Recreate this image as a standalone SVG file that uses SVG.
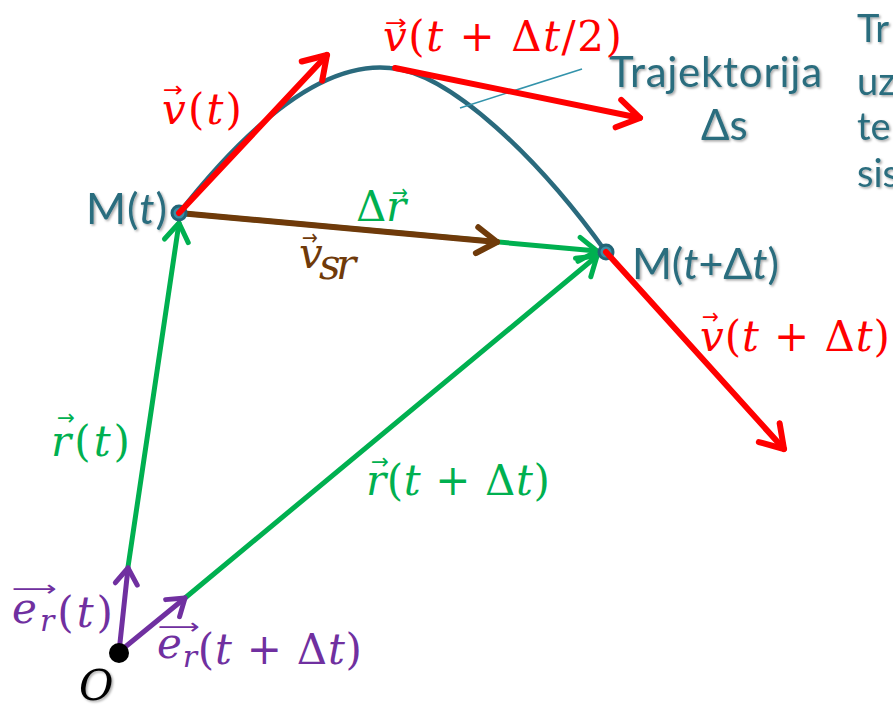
<svg xmlns="http://www.w3.org/2000/svg" width="893" height="711" viewBox="0 0 893 711">
<defs>
<style>
.m{font-family:"DejaVu Serif","Liberation Serif",serif;font-size:42px}
.i{font-style:italic}
.lab{font-family:Lato,"Open Sans",sans-serif;fill:#2b6d7e}
.acc{font-family:"DejaVu Sans",sans-serif;font-size:22px}
.red{fill:#ff0000}
.grn{fill:#00b050}
.brn{fill:#6f3a0a}
.pur{fill:#7030a0}
.v{fill:none;stroke-linecap:round}
.vr{stroke:#ff0000;stroke-width:6}
.vg{stroke:#00b050;stroke-width:5}
.vb{stroke:#6f3a0a;stroke-width:6}
.vp{stroke:#7030a0;stroke-width:5}
.pt{fill:#3a8ea6;stroke:#226476;stroke-width:3}
</style>
<filter id="sh" x="-10%" y="-20%" width="130%" height="150%">
<feDropShadow dx="1.5" dy="1.5" stdDeviation="1.2" flood-color="#000" flood-opacity="0.35"/>
</filter>
<marker id="ar" viewBox="-30 -20 36 40" refX="0" refY="0" markerWidth="36" markerHeight="40" markerUnits="userSpaceOnUse" orient="auto">
<path d="M-22,-14 L0,0 L-22,14" fill="none" stroke="#ff0000" stroke-width="6" stroke-linecap="round" stroke-linejoin="round"/>
</marker>
<marker id="ag" viewBox="-30 -20 36 40" refX="0" refY="0" markerWidth="36" markerHeight="40" markerUnits="userSpaceOnUse" orient="auto">
<path d="M-18,-12 L0,0 L-18,12" fill="none" stroke="#00b050" stroke-width="5" stroke-linecap="round" stroke-linejoin="round"/>
</marker>
<marker id="ab" viewBox="-30 -20 36 40" refX="0" refY="0" markerWidth="36" markerHeight="40" markerUnits="userSpaceOnUse" orient="auto">
<path d="M-20,-13 L0,0 L-20,13" fill="none" stroke="#6f3a0a" stroke-width="6" stroke-linecap="round" stroke-linejoin="round"/>
</marker>
<marker id="ap" viewBox="-30 -20 36 40" refX="0" refY="0" markerWidth="36" markerHeight="40" markerUnits="userSpaceOnUse" orient="auto">
<path d="M-16,-11 L0,0 L-16,11" fill="none" stroke="#7030a0" stroke-width="5" stroke-linecap="round" stroke-linejoin="round"/>
</marker>
</defs>
<rect width="893" height="711" fill="#ffffff"/>

<g id="trajectory">
<path d="M179,213 C260,110 330,62 390,68 C450,72 540,160 606,252" fill="none" stroke="#2a6a7d" stroke-width="4.5"/>
<line x1="460" y1="108" x2="582" y2="69" stroke="#3393ab" stroke-width="1.5"/>
<text class="lab" x="609" y="87" font-size="42" textLength="213" filter="url(#sh)">Trajektorija</text>
<text class="lab" x="701" y="140" font-size="42" filter="url(#sh)">Δs</text>
</g>

<g id="connectors">
<line class="v vg" x1="128" y1="567" x2="179" y2="223" marker-end="url(#ag)"/>
<line class="v vg" x1="185" y1="598" x2="597" y2="256" marker-end="url(#ag)"/>
<line class="v vg" x1="179" y1="213" x2="597" y2="251" marker-end="url(#ag)"/>
<line class="v vb" x1="179" y1="213" x2="497" y2="242" marker-end="url(#ab)"/>
<line class="v vp" x1="119" y1="652" x2="128" y2="568" marker-end="url(#ap)"/>
<line class="v vp" x1="119" y1="652" x2="185" y2="598" marker-end="url(#ap)"/>
</g>

<g id="node-M-t">
<circle class="pt" cx="179" cy="213" r="7"/>
<text class="lab" x="86" y="224" font-size="43" textLength="81" filter="url(#sh)">M(<tspan class="i">t</tspan>)</text>
</g>

<g id="node-M-t-dt">
<circle class="pt" cx="606" cy="252" r="7"/>
<text class="lab" x="632" y="279" font-size="43" textLength="147" filter="url(#sh)">M(<tspan class="i">t</tspan>+Δ<tspan class="i">t</tspan>)</text>
</g>

<g id="node-O">
<circle cx="119" cy="653" r="10" fill="#000"/>
<text class="m i" x="79" y="700" font-size="40" fill="#000" filter="url(#sh)">O</text>
</g>

<g id="velocity-vectors">
<line class="v vr" x1="179" y1="213" x2="327" y2="55" marker-end="url(#ar)"/>
<line class="v vr" x1="395" y1="68" x2="640" y2="118" marker-end="url(#ar)"/>
<line class="v vr" x1="606" y1="252" x2="784" y2="449" marker-end="url(#ar)"/>
</g>

<g id="labels">
<text class="m red" x="162" y="124" textLength="80"><tspan class="i">v</tspan>(<tspan class="i">t</tspan>)</text>
<text class="acc red" x="163" y="97" textLength="20" lengthAdjust="spacingAndGlyphs">→</text>

<text class="m red" x="383" y="51" textLength="239"><tspan class="i">v</tspan>(<tspan class="i">t</tspan> + Δ<tspan class="i">t</tspan>/2)</text>
<text class="acc red" x="385" y="30" textLength="22" lengthAdjust="spacingAndGlyphs">→</text>

<text class="m red" x="700" y="351" textLength="190"><tspan class="i">v</tspan>(<tspan class="i">t</tspan> + Δ<tspan class="i">t</tspan>)</text>
<text class="acc red" x="702" y="324" textLength="17" lengthAdjust="spacingAndGlyphs">→</text>

<text class="m grn" x="356" y="221" textLength="50">Δ<tspan class="i">r</tspan></text>
<text class="acc grn" x="392" y="200" textLength="16" lengthAdjust="spacingAndGlyphs">→</text>

<text class="m i brn" x="299" y="268">v</text>
<text class="m i brn" x="319" y="279" font-size="32" textLength="37">sr</text>
<text class="acc brn" x="302" y="245" textLength="16" lengthAdjust="spacingAndGlyphs">→</text>

<text class="m grn" x="51" y="456" textLength="79"><tspan class="i">r</tspan>(<tspan class="i">t</tspan>)</text>
<text class="acc grn" x="57" y="425" textLength="18" lengthAdjust="spacingAndGlyphs">→</text>

<text class="m grn" x="366" y="495" textLength="184"><tspan class="i">r</tspan>(<tspan class="i">t</tspan> + Δ<tspan class="i">t</tspan>)</text>
<text class="acc grn" x="371" y="469" textLength="18" lengthAdjust="spacingAndGlyphs">→</text>

<text class="m pur" x="12" y="623" textLength="101"><tspan class="i">e</tspan><tspan class="i" y="631" font-size="30">r</tspan><tspan y="627">(</tspan><tspan class="i">t</tspan>)</text>
<text class="acc pur" x="12" y="596" textLength="45" lengthAdjust="spacingAndGlyphs">⟶</text>

<text class="m pur" x="157" y="658" textLength="205"><tspan class="i">e</tspan><tspan class="i" y="667" font-size="30">r</tspan><tspan y="664">(</tspan><tspan class="i">t</tspan> + Δ<tspan class="i">t</tspan>)</text>
<text class="acc pur" x="158" y="634" textLength="42" lengthAdjust="spacingAndGlyphs">⟶</text>
</g>

<g id="side-text" class="lab" font-size="38" filter="url(#sh)">
<text x="857" y="42">Tr</text>
<text x="857" y="95">uz</text>
<text x="857" y="140">te</text>
<text x="857" y="187">sis</text>
</g>
</svg>
